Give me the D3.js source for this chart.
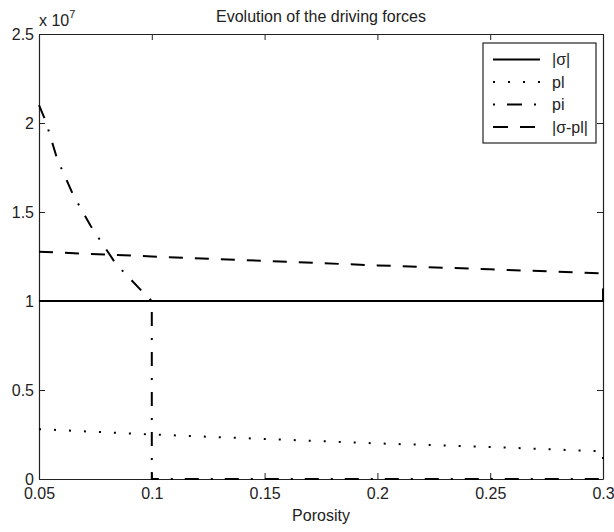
<!DOCTYPE html>
<html>
<head>
<meta charset="utf-8">
<script src="https://cdn.jsdelivr.net/npm/d3@7"></script>
<style>
  body { margin: 0; background: #fff; }
  svg { display: block; font-family: "Liberation Sans", Arial, sans-serif; }
</style>
</head>
<body>
<svg id="svg" width="614" height="532"></svg>
<script>
// values (forces in Pa)
var porosity = [0.05, 0.1, 0.15, 0.2, 0.25, 0.3, 0.3];
var sigmaAbs = [1.0e7, 1.0e7, 1.0e7, 1.0e7, 1.0e7, 1.0e7, 1.07e7];
var pl = [0.28e7, 0.25e7, 0.225e7, 0.2e7, 0.18e7, 0.155e7, 0.09e7];
var sigmaMinusPl = [1.277e7, 1.25e7, 1.225e7, 1.2e7, 1.178e7, 1.155e7, 1.155e7];

var piPorosity = [0.05, 0.053, 0.058, 0.065, 0.073, 0.084, 0.096, 0.1, 0.1, 0.3];
var pi = [2.10e7, 2.01e7, 1.80e7, 1.60e7, 1.42e7, 1.21e7, 1.05e7, 1.0e7, 0, 0];

var xTicks = [0.05, 0.1, 0.15, 0.2, 0.25, 0.3];
var yTicks = [0, 0.5e7, 1e7, 1.5e7, 2e7, 2.5e7];
var legendLabels = ["|σ|", "pl", "pi", "|σ-pl|"];

window.onload = function() {
    var svgWidth = +document.getElementById('svg').getAttribute('width');
    var svgHeight = +document.getElementById('svg').getAttribute('height');
    var margin = {left: 39, top: 34, right: 11, bottom: 53};
    var w = svgWidth - margin.left - margin.right;
    var h = svgHeight - margin.top - margin.bottom;
    var ink = "#222";

    var svg = d3.select("svg");
    var g = svg.append("g").attr("transform", "translate(" + margin.left + "," + margin.top + ")");

    var x = d3.scaleLinear().domain([0.05, 0.3]).range([0, w]);
    var y = d3.scaleLinear().domain([0, 2.5e7]).range([h, 0]);

    var fmtX = function(d) { return d3.format("")(+d.toFixed(2)); };
    var fmtY = function(d) { return d3.format("")(+(d / 1e7).toFixed(1)); };

    var axes = [
        {ax: d3.axisBottom(x).tickValues(xTicks).tickFormat(fmtX), tr: "translate(0," + h + ")", lab: true},
        {ax: d3.axisTop(x).tickValues(xTicks).tickFormat(""), tr: "translate(0,0)", lab: false},
        {ax: d3.axisLeft(y).tickValues(yTicks).tickFormat(fmtY), tr: "translate(0,0)", lab: true},
        {ax: d3.axisRight(y).tickValues(yTicks).tickFormat(""), tr: "translate(" + w + ",0)", lab: false}
    ];
    axes.forEach(function(a) {
        var ag = g.append("g").attr("transform", a.tr)
            .call(a.ax.tickSizeInner(-6).tickSizeOuter(0).tickPadding(a.lab ? 5 : 0));
        ag.select(".domain").attr("stroke", ink).attr("stroke-width", 1.2);
        ag.selectAll(".tick line").attr("stroke", ink);
        ag.selectAll("text").attr("fill", ink).attr("font-size", 16).attr("font-family", null);
    });
    g.selectAll("g.tick text").filter(function() { return this.parentNode.parentNode.getAttribute("transform") == "translate(0," + h + ")"; })
        .attr("dy", "0.71em").attr("y", 9);

    var line = d3.line().x(function(d) { return x(d[0]); }).y(function(d) { return y(d[1]); });
    var styles = [
        {data: d3.zip(porosity, sigmaAbs), dash: null, off: 0},
        {data: d3.zip(porosity, pl), dash: "2,13", off: 0},
        {data: d3.zip(piPorosity, pi), dash: "14,12,2,12", off: 0},
        {data: d3.zip(porosity, sigmaMinusPl), dash: "14,12", off: 0}
    ];
    styles.forEach(function(s) {
        g.append("path").attr("d", line(s.data))
            .attr("fill", "none").attr("stroke", "#000").attr("stroke-width", 2)
            .attr("stroke-dasharray", s.dash);
    });

    // title, axis label, exponent
    svg.append("text").attr("x", margin.left + w / 2).attr("y", 21.5)
        .attr("text-anchor", "middle").attr("font-size", 16).attr("fill", ink)
        .text("Evolution of the driving forces");
    svg.append("text").attr("x", margin.left + w / 2).attr("y", 521)
        .attr("text-anchor", "middle").attr("font-size", 16).attr("fill", ink)
        .text("Porosity");
    var ex = svg.append("text").attr("x", 39).attr("y", 26).attr("font-size", 16).attr("fill", ink);
    ex.append("tspan").text("x 10");
    ex.append("tspan").attr("font-size", 11).attr("dy", -8).text("7");

    // legend
    var lg = svg.append("g").attr("transform", "translate(483,43)");
    lg.append("rect").attr("width", 113).attr("height", 100)
        .attr("fill", "#fff").attr("stroke", ink).attr("stroke-width", 1.2);
    var legendDash = [null, "2,13", "2,12,15,12", "15,12"];
    legendLabels.forEach(function(lbl, i) {
        var yy = 16.5 + i * 22.5;
        lg.append("line").attr("x1", 10).attr("x2", 57).attr("y1", yy).attr("y2", yy)
            .attr("stroke", "#000").attr("stroke-width", 2).attr("stroke-dasharray", legendDash[i]);
        lg.append("text").attr("x", 69).attr("y", yy).attr("dy", "0.35em")
            .attr("font-size", 16).attr("fill", ink).text(lbl);
    });
};
</script>
</body>
</html>
